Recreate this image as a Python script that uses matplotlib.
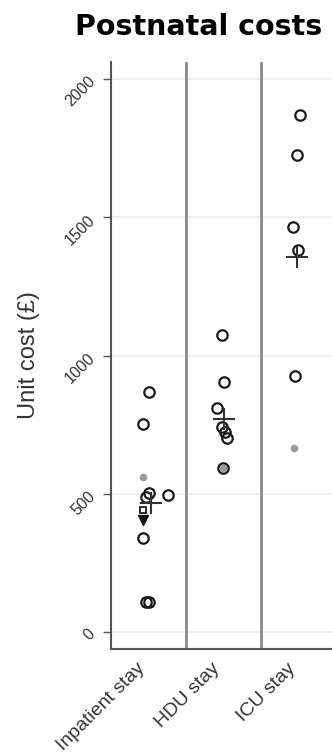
import numpy as np
import matplotlib
matplotlib.use("Agg")
import matplotlib.pyplot as plt

# categories on the x axis
categories = ["Inpatient stay", "HDU stay", "ICU stay"]

# open circles: unit cost (GBP) and small horizontal jitter (fraction of panel)
inpatient_vals = [868, 752, 503, 488, 495, 340, 108, 108]
inpatient_jit = [0.01, -0.07, 0.0, -0.04, 0.26, -0.07, -0.04, 0.0]
hdu_vals = [1074, 904, 810, 741, 723, 702, 593]
hdu_jit = [-0.02, 0.01, -0.09, -0.02, 0.02, 0.05, -0.01]
icu_vals = [1870, 1725, 1465, 1382, 926]
icu_jit = [0.02, -0.02, -0.07, -0.01, -0.05]

# grey filled points
grey_cat = [0, 1, 2]
grey_vals = [561, 593, 665]
grey_jit = [-0.07, -0.01, -0.06]

# means (plus markers)
mean_vals = [467, 770, 1356]
mean_jit = [0.03, 0.0, -0.02]

# extra inpatient markers
square_val = 441
triangle_val = 405

yticks = [0, 500, 1000, 1500, 2000]

fig = plt.figure(figsize=(3.32, 7.56), dpi=100)
ax = fig.add_axes([111 / 332, 107 / 756, 221 / 332, 587 / 756])

ax.set_ylim(-62, 2062)
ax.set_xlim(0, 221 / 75)

for v in yticks:
    ax.axhline(v, color="#e6eef0", lw=1.2, zorder=0)

for d in [1, 2]:
    ax.axvline(d, color="#8a8a8a", lw=2, zorder=1)

circ = dict(marker="o", ms=7.5, mfc="none", mec="#1a1a1a", mew=1.6, ls="none", zorder=3)
for i, (vals, jit) in enumerate([(inpatient_vals, inpatient_jit),
                                 (hdu_vals, hdu_jit),
                                 (icu_vals, icu_jit)]):
    ax.plot(i + 0.5 + np.array(jit), vals, **circ)

ax.plot(np.array(grey_cat) + 0.5 + np.array(grey_jit), grey_vals, "o",
        ms=5.5, color="#9a9a9a", mec="none", zorder=2)

ax.plot(np.arange(3) + 0.5 + np.array(mean_jit), mean_vals, "+",
        ms=16, mew=1.5, color="#333333", zorder=4)

ax.plot([0.5 - 0.08], [square_val], "s", ms=5, mfc="white", mec="#1a1a1a",
        mew=1.3, zorder=4)
ax.plot([0.5 - 0.08], [triangle_val], "v", ms=7, color="#111111", zorder=4)

ax.set_yticks(yticks)
ax.set_yticklabels([str(t) for t in yticks], rotation=45, ha="right", va="center",
                   rotation_mode="anchor", fontsize=11.5, color="#333333",
                   family="Liberation Sans")
# x tick marks are hidden, labels sit a little left of the panel centres
ax.set_xticks(np.arange(3) + 0.5 - 0.16)
ax.set_xticklabels(categories, rotation=45, ha="right", rotation_mode="anchor",
                   fontsize=14, color="#333333", family="Liberation Sans")
ax.tick_params(axis="y", length=6, width=1, color="#555555", pad=7)
ax.tick_params(axis="x", length=0, pad=8)

for s in ["top", "right"]:
    ax.spines[s].set_visible(False)
for s in ["left", "bottom"]:
    ax.spines[s].set_color("#555555")
    ax.spines[s].set_linewidth(1.5)

ax.set_ylabel("Unit cost (\u00a3)", fontsize=17, color="#333333",
              family="Liberation Sans")
ax.yaxis.set_label_coords(-0.32, 0.5)

fig.text(199 / 332, 1 - 35 / 756, "Postnatal costs", ha="center", va="baseline",
         fontsize=20.5, fontweight="bold", family="DejaVu Sans")

fig.savefig("out.png", dpi=100)
